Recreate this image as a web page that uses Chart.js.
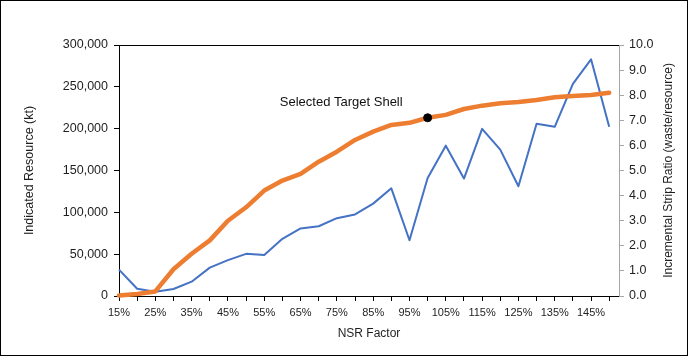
<!DOCTYPE html>
<html>
<head>
<meta charset="utf-8">
<script src="https://cdn.jsdelivr.net/npm/chart.js@4"></script>
<style>
  html, body { margin: 0; padding: 0; background: #fff; }
  canvas { display: block; }
</style>
</head>
<body>
<canvas id="c" width="688" height="356"></canvas>
<script>
// ---- data ----
const nsrFactor = [15, 20, 25, 30, 35, 40, 45, 50, 55, 60, 65, 70, 75, 80, 85, 90, 95, 100,
                   105, 110, 115, 120, 125, 130, 135, 140, 145, 150];
const indicatedResource = [500, 2500, 5500, 32000, 50500, 66500, 90000, 106000, 126000, 138000,
                           146000, 160500, 172500, 186500, 196500, 204500, 207000, 213000,
                           216500, 223500, 227500, 230500, 231800, 234200, 237500, 239000,
                           240200, 243000];
const stripRatio = [1.05, 0.29, 0.17, 0.28, 0.57, 1.13, 1.43, 1.68, 1.63, 2.28, 2.69, 2.78, 3.10,
                    3.25, 3.68, 4.29, 2.22, 4.70, 5.99, 4.68, 6.66, 5.83, 4.37, 6.86, 6.74, 8.45,
                    9.43, 6.74];
const xTickLabels = ['15%', '25%', '35%', '45%', '55%', '65%', '75%', '85%', '95%', '105%',
                     '115%', '125%', '135%', '145%'];
const leftTicks = [0, 50000, 100000, 150000, 200000, 250000, 300000];
const rightTicks = [0, 1, 2, 3, 4, 5, 6, 7, 8, 9, 10];
const selectedNsr = 100;
const selectedLabel = 'Selected Target Shell';
const rightTitle = 'Incremental Strip Ratio (waste/resource)';

const FONT = "'Liberation Sans', Arial, sans-serif";
const TXT = '#1e1e1e';

const pts = (arr) => nsrFactor.map((x, i) => ({ x: x, y: arr[i] }));
const selIdx = nsrFactor.indexOf(selectedNsr);

const frame = {
  id: 'frame',
  beforeDraw(chart) {
    const ctx = chart.ctx;
    ctx.save();
    ctx.fillStyle = '#fff';
    ctx.fillRect(0, 0, chart.width, chart.height);
    ctx.restore();
  },
  afterDraw(chart) {
    const ctx = chart.ctx, a = chart.chartArea;
    ctx.save();
    ctx.strokeStyle = '#000';
    ctx.lineWidth = 1;
    ctx.beginPath();
    ctx.moveTo(a.left, a.top + 0.5);
    ctx.lineTo(a.right, a.top + 0.5);
    ctx.stroke();
    ctx.strokeRect(0.5, 0.5, chart.width - 1, chart.height - 1);
    // right axis title, reading bottom-to-top
    ctx.save();
    ctx.translate(669, (a.top + a.bottom) / 2);
    ctx.rotate(-Math.PI / 2);
    ctx.fillStyle = TXT;
    ctx.font = "12px " + FONT;
    ctx.textAlign = 'center';
    ctx.textBaseline = 'middle';
    ctx.fillText(rightTitle, 0, 0);
    ctx.restore();
    // annotation text
    const meta = chart.getDatasetMeta(0);
    const p = meta.data[0];
    if (p) {
      ctx.fillStyle = '#111';
      ctx.font = "13px " + FONT;
      ctx.textAlign = 'right';
      ctx.textBaseline = 'middle';
      ctx.fillText(selectedLabel, p.x - 25, p.y - 15);
    }
    ctx.restore();
  }
};

new Chart(document.getElementById('c'), {
  type: 'line',
  data: {
    datasets: [
      {
        label: selectedLabel,
        data: [{ x: selectedNsr, y: indicatedResource[selIdx] }],
        yAxisID: 'y',
        showLine: false,
        pointRadius: 4,
        pointBackgroundColor: '#000',
        pointBorderColor: '#000',
        clip: false
      },
      {
        label: 'Indicated Resource (kt)',
        data: pts(indicatedResource),
        yAxisID: 'y',
        borderColor: '#ED7D31',
        borderWidth: 4.5,
        pointRadius: 0,
        tension: 0,
        borderJoinStyle: 'round',
        borderCapStyle: 'round',
        clip: false
      },
      {
        label: 'Incremental Strip Ratio',
        data: pts(stripRatio),
        yAxisID: 'y1',
        borderColor: '#4472C4',
        borderWidth: 2,
        pointRadius: 0,
        tension: 0,
        borderJoinStyle: 'round',
        clip: false
      }
    ]
  },
  options: {
    responsive: false,
    animation: false,
    devicePixelRatio: 1,
    layout: { padding: { top: 45, left: 0, right: 0, bottom: 0 } },
    plugins: { legend: { display: false }, tooltip: { enabled: false } },
    scales: {
      x: {
        type: 'linear',
        min: 15,
        max: 152.7,
        afterBuildTicks(s) { s.ticks = nsrFactor.map(v => ({ value: v })); },
        afterFit(s) { s.height = 60; },
        grid: { drawOnChartArea: false, drawTicks: true, tickLength: 5, color: '#000' },
        border: { color: '#000', width: 1 },
        ticks: {
          autoSkip: false, maxRotation: 0, minRotation: 0, padding: 5,
          color: TXT, font: { family: FONT, size: 11 },
          callback(v) { const t = v + '%'; return xTickLabels.includes(t) ? t : ''; }
        },
        title: {
          display: true, text: 'NSR Factor', color: TXT,
          font: { family: FONT, size: 12 }, padding: { top: 0, bottom: 15 }
        }
      },
      y: {
        position: 'left',
        min: 0, max: 300000,
        afterBuildTicks(s) { s.ticks = leftTicks.map(v => ({ value: v })); },
        afterFit(s) { s.width = 119; },
        grid: { drawOnChartArea: false, drawTicks: true, tickLength: 5, color: '#000' },
        border: { color: '#000', width: 1 },
        ticks: {
          padding: 6, color: TXT, font: { family: FONT, size: 12.5 },
          callback(v) { return v.toLocaleString('en-US'); }
        },
        title: {
          display: true, text: 'Indicated Resource (kt)', color: TXT,
          font: { family: FONT, size: 12.5 }, padding: { top: 22, bottom: 0 }
        }
      },
      y1: {
        position: 'right',
        min: 0, max: 10,
        afterBuildTicks(s) { s.ticks = rightTicks.map(v => ({ value: v })); },
        afterFit(s) { s.width = 69; },
        grid: { drawOnChartArea: false, drawTicks: true, tickLength: 5, color: '#a6a6a6' },
        border: { color: '#a6a6a6', width: 1 },
        ticks: {
          padding: 5, color: TXT, font: { family: FONT, size: 12.5 },
          callback(v) { return v.toFixed(1); }
        },
        title: { display: false }
      }
    }
  },
  plugins: [frame]
});
</script>
</body>
</html>
